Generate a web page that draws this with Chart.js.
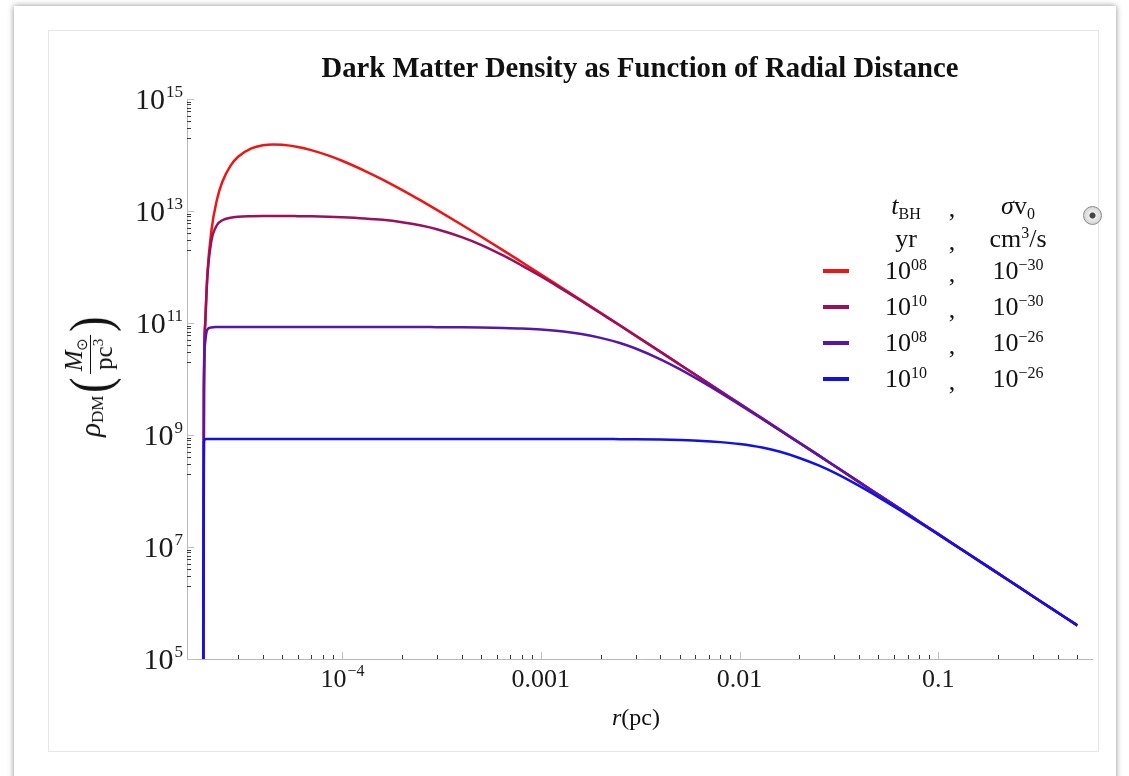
<!DOCTYPE html>
<html>
<head>
<meta charset="utf-8">
<title>Dark Matter Density</title>
<script src="https://cdn.jsdelivr.net/npm/chart.js@4.4.1/dist/chart.umd.min.js"></script>
<style>
body { margin: 0; background: #fff; width: 1129px; height: 776px; overflow: hidden;
       font-family: "Liberation Serif", "Times New Roman", serif; color: #111; }
#panel { position: absolute; left: 14px; top: 6px; width: 1102px; height: 820px; background: #fff;
         box-shadow: 0 0 6px rgba(0,0,0,0.45); }
#frame { position: absolute; left: 48px; top: 30px; width: 1049px; height: 720px; border: 1px solid #e6e6e6; }
#chart { position: absolute; left: 0; top: 0; }
#title { position: absolute; left: 640px; top: 51px; transform: translateX(-50%) scaleX(0.955); white-space: nowrap;
         font-size: 30px; font-weight: bold; line-height: 32px; }
#xtitle { position: absolute; left: 636px; top: 702px; transform: translateX(-50%); font-size: 24px; line-height: 30px; }
#ytitle { position: absolute; left: 90px; top: 375px; transform: translate(-50%, -50%) rotate(-90deg);
          white-space: nowrap; display: flex; align-items: center; font-size: 29px; }
#ytitle .sub { font-size: 17px; position: relative; top: 8px; }
#ytitle .paren { font-size: 58px; font-weight: 300; line-height: 62px; margin: 0 1px; transform: scaleX(0.8); }
#ytitle .frac { display: inline-flex; flex-direction: column; align-items: center; }
#ytitle .num { border-bottom: 1.5px solid #111; padding: 0 3px; font-size: 25px; line-height: 26px; }
#ytitle .den { font-size: 25px; line-height: 26px; }
#ytitle .sm { font-size: 15px; position: relative; top: 5px; }
#ytitle .sp { font-size: 15px; position: relative; top: -9px; }
.lg { position: absolute; font-size: 26px; line-height: 30px; height: 30px; white-space: nowrap; transform: translateX(-50%); }
.lg sup { font-size: 16px; vertical-align: baseline; position: relative; top: -9px; }
.lg sub { font-size: 16px; vertical-align: baseline; position: relative; top: 5px; }
.sw { position: absolute; width: 26px; height: 4px; }
#knob { position: absolute; left: 1083px; top: 206px; width: 17px; height: 17px; border-radius: 50%;
        border: 1px solid #8a8a8a; background: radial-gradient(circle, #444 0 2.5px, #eee 3.5px, #c4c4c4 100%); }
</style>
</head>
<body>
<div id="panel"></div>
<div id="frame"></div>
<canvas id="chart" width="1129" height="776"></canvas>
<div id="title">Dark Matter Density as Function of Radial Distance</div>
<div id="xtitle"><i>r</i>(pc)</div>
<div id="ytitle"><i>ρ</i><span class="sub">DM</span><span class="paren">(</span><span class="frac"><span class="num"><i>M</i><span class="sm">⊙</span></span><span class="den">pc<span class="sp">3</span></span></span><span class="paren">)</span></div>
<div id="legend"></div>
<div id="knob"></div>
<script>
// radial distance r (pc)
const radius = [2.0e-5, 2.02e-5, 2.05e-5, 2.1e-5, 2.2e-5, 2.35e-5, 2.5e-5, 2.75e-5, 3e-5, 3.5e-5,
    4e-5, 4.5e-5, 5e-5, 6e-5, 7e-5, 8.5e-5, 1e-4, 1.3e-4, 1.6e-4, 2e-4,
    2.5e-4, 3e-4, 4e-4, 5e-4, 6.5e-4, 8e-4, 1e-3, 1.3e-3, 1.6e-3, 2e-3,
    2.5e-3, 3e-3, 4e-3, 5e-3, 6.5e-3, 8e-3, 1e-2, 1.3e-2, 1.6e-2, 2e-2,
    2.5e-2, 3e-2, 4e-2, 5e-2, 6.5e-2, 8e-2, 0.1, 0.13, 0.16, 0.2,
    0.25, 0.3, 0.4, 0.5];

// density (Msun / pc^3), t_BH = 1e8 yr, sigma v = 1e-30 cm^3/s
const rho_8_30 = [1e3, 6.89e9, 9.95e10, 6.98e11, 4.35e12, 1.61e13, 3.32e13, 6.47e13, 9.31e13, 1.31e14,
    1.49e14, 1.54e14, 1.52e14, 1.39e14, 1.22e14, 9.82e13, 7.89e13, 5.22e13, 3.64e13, 2.39e13,
    1.53e13, 1.05e13, 5.69e12, 3.50e12, 1.96e12, 1.23e12, 7.43e11, 4.08e11, 2.54e11, 1.52e11,
    9.10e10, 5.96e10, 3.06e10, 1.82e10, 9.91e9, 6.12e9, 3.64e9, 1.98e9, 1.22e9, 7.26e8,
    4.33e8, 2.82e8, 1.44e8, 8.57e7, 4.65e7, 2.86e7, 1.70e7, 9.23e6, 5.69e6, 3.38e6,
    2.01e6, 1.31e6, 6.70e5, 3.98e5];

// t_BH = 1e10 yr, sigma v = 1e-30
const rho_10_30 = [1e3, 6.89e9, 9.84e10, 6.46e11, 2.88e12, 5.62e12, 6.84e12, 7.60e12, 7.89e12, 8.05e12,
    8.11e12, 8.13e12, 8.13e12, 8.09e12, 8.04e12, 7.93e12, 7.76e12, 7.38e12, 6.97e12, 6.32e12,
    5.50e12, 4.73e12, 3.42e12, 2.49e12, 1.59e12, 1.07e12, 6.84e11, 3.89e11, 2.47e11, 1.49e11,
    9.00e10, 5.92e10, 3.05e10, 1.82e10, 9.91e9, 6.12e9, 3.64e9, 1.98e9, 1.22e9, 7.26e8,
    4.33e8, 2.82e8, 1.44e8, 8.57e7, 4.65e7, 2.86e7, 1.70e7, 9.23e6, 5.69e6, 3.38e6,
    2.01e6, 1.31e6, 6.70e5, 3.98e5];

// t_BH = 1e8 yr, sigma v = 1e-26
const rho_8_26 = [1e3, 6.38e9, 4.57e10, 7.60e10, 8.34e10, 8.47e10, 8.51e10, 8.51e10, 8.51e10, 8.51e10,
    8.51e10, 8.51e10, 8.51e10, 8.51e10, 8.51e10, 8.51e10, 8.51e10, 8.51e10, 8.51e10, 8.51e10,
    8.51e10, 8.43e10, 8.39e10, 8.32e10, 8.15e10, 7.96e10, 7.64e10, 7.05e10, 6.37e10, 5.43e10,
    4.40e10, 3.51e10, 2.25e10, 1.50e10, 8.87e9, 5.71e9, 3.48e9, 1.93e9, 1.20e9, 7.19e8,
    4.33e8, 2.82e8, 1.44e8, 8.57e7, 4.65e7, 2.86e7, 1.70e7, 9.23e6, 5.69e6, 3.38e6,
    2.01e6, 1.31e6, 6.70e5, 3.98e5];

// t_BH = 1e10 yr, sigma v = 1e-26
const rho_10_26 = [1e3, 7.59e8, 8.43e8, 8.51e8, 8.51e8, 8.51e8, 8.51e8, 8.51e8, 8.51e8, 8.51e8,
    8.51e8, 8.51e8, 8.51e8, 8.51e8, 8.51e8, 8.51e8, 8.51e8, 8.51e8, 8.51e8, 8.51e8,
    8.51e8, 8.51e8, 8.51e8, 8.51e8, 8.51e8, 8.51e8, 8.49e8, 8.49e8, 8.49e8, 8.49e8,
    8.43e8, 8.39e8, 8.28e8, 8.13e8, 7.85e8, 7.46e8, 6.89e8, 5.96e8, 5.01e8, 3.89e8,
    2.86e8, 2.12e8, 1.23e8, 7.78e7, 4.41e7, 2.77e7, 1.67e7, 9.12e6, 5.65e6, 3.37e6,
    2.00e6, 1.31e6, 6.70e5, 3.98e5];

const seriesData = [rho_8_30, rho_10_30, rho_8_26, rho_10_26];
const seriesColors = ['#f01414', '#9b0f5c', '#5616ac', '#1010ee'];
const legendTime = ['10^08', '10^10', '10^08', '10^10'];
const legendCross = ['10^−30', '10^−30', '10^−26', '10^−26'];

const xTickValues = [1e-4, 1e-3, 1e-2, 0.1];
const xTickLabels = ['10^−4', '0.001', '0.01', '0.1'];
const yTickValues = [1e5, 1e7, 1e9, 1e11, 1e13, 1e15];
const yTickLabels = ['10^5', '10^7', '10^9', '10^11', '10^13', '10^15'];

const FONT = '"Liberation Serif", "Times New Roman", serif';

function supHtml(s) {
    var p = s.split('^');
    return p[0] + (p[1] ? '<sup>' + p[1] + '</sup>' : '');
}

// legend (html so super/subscripts stay real text)
(function buildLegend() {
    var box = document.getElementById('legend');
    var html = '';
    var col1 = 906, colComma = 952, col2 = 1018;
    html += '<div class="lg" style="left:' + col1 + 'px;top:191px"><i>t</i><sub>BH</sub></div>';
    html += '<div class="lg" style="left:' + colComma + 'px;top:194px">,</div>';
    html += '<div class="lg" style="left:' + col2 + 'px;top:191px"><i>σ</i>v<sub>0</sub></div>';
    html += '<div class="lg" style="left:' + col1 + 'px;top:224px">yr</div>';
    html += '<div class="lg" style="left:' + colComma + 'px;top:227px">,</div>';
    html += '<div class="lg" style="left:' + col2 + 'px;top:224px">cm<sup>3</sup>/s</div>';
    for (var i = 0; i < legendTime.length; i++) {
        var cy = 271 + i * 36;
        html += '<div class="sw" style="left:823px;top:' + (cy - 2) + 'px;background:' + seriesColors[i] + '"></div>';
        html += '<div class="lg" style="left:' + col1 + 'px;top:' + (cy - 15) + 'px">' + supHtml(legendTime[i]) + '</div>';
        html += '<div class="lg" style="left:' + colComma + 'px;top:' + (cy - 12) + 'px">,</div>';
        html += '<div class="lg" style="left:' + col2 + 'px;top:' + (cy - 15) + 'px">' + supHtml(legendCross[i]) + '</div>';
    }
    box.innerHTML = html;
})();

function drawPower(ctx, text, x, y, align, size, supSize, raise) {
    var p = text.split('^');
    ctx.font = size + 'px ' + FONT;
    var wb = ctx.measureText(p[0]).width;
    var ws = 0;
    if (p[1]) {
        ctx.font = supSize + 'px ' + FONT;
        ws = ctx.measureText(p[1]).width;
    }
    var x0 = align === 'right' ? x - wb - ws : x - (wb + ws) / 2;
    ctx.textAlign = 'left';
    ctx.textBaseline = 'alphabetic';
    ctx.font = size + 'px ' + FONT;
    ctx.fillText(p[0], x0, y);
    if (p[1]) {
        ctx.font = supSize + 'px ' + FONT;
        ctx.fillText(p[1], x0 + wb + 1, y - raise);
    }
}

const axisPlugin = {
    id: 'axisPlugin',
    beforeDatasetsDraw(chart) {
        var ctx = chart.ctx, area = chart.chartArea;
        var xs = chart.scales.x, ys = chart.scales.y;
        ctx.save();
        ctx.lineWidth = 1;
        ctx.strokeStyle = '#b8b8b8';
        ctx.beginPath();
        ctx.moveTo(area.left + 0.5, area.top);
        ctx.lineTo(area.left + 0.5, area.bottom + 0.5);
        ctx.lineTo(area.right, area.bottom + 0.5);
        ctx.stroke();
        // inward tick marks
        xs.ticks.forEach(function (t) {
            var px = Math.round(xs.getPixelForValue(t.value)) + 0.5;
            ctx.strokeStyle = t.major ? '#c0c0c0' : '#3a3a3a';
            ctx.beginPath();
            ctx.moveTo(px, area.bottom);
            ctx.lineTo(px, area.bottom - (t.major ? 7 : 4));
            ctx.stroke();
        });
        ys.ticks.forEach(function (t) {
            var py = Math.round(ys.getPixelForValue(t.value)) + 0.5;
            ctx.strokeStyle = t.major ? '#c0c0c0' : '#3a3a3a';
            ctx.beginPath();
            ctx.moveTo(area.left, py);
            ctx.lineTo(area.left + (t.major ? 7 : 4), py);
            ctx.stroke();
        });
        ctx.restore();
    },
    afterDraw(chart) {
        var ctx = chart.ctx, area = chart.chartArea;
        var xs = chart.scales.x, ys = chart.scales.y;
        ctx.save();
        ctx.fillStyle = '#1a1a1a';
        xTickValues.forEach(function (v, i) {
            drawPower(ctx, xTickLabels[i], xs.getPixelForValue(v), area.bottom + 28, 'center', 26, 16, 11);
        });
        yTickValues.forEach(function (v, i) {
            drawPower(ctx, yTickLabels[i], area.left - 5, ys.getPixelForValue(v) + 10, 'right', 30, 17, 12);
        });
        ctx.restore();
    }
};

function logTicks(values, lo, hi, minorDecades) {
    var out = [];
    values.forEach(function (v) { out.push({ value: v, major: true }); });
    minorDecades.forEach(function (d) {
        for (var m = 2; m <= 9; m++) {
            var v = m * d;
            if (v >= lo && v <= hi) out.push({ value: v, major: false });
        }
    });
    return out.sort(function (a, b) { return a.value - b.value; });
}

const X_MIN = 1.66e-5, X_MAX = 0.6, Y_MIN = 1e5, Y_MAX = 1e15;

var ctx = document.getElementById('chart');
var myChart = new Chart(ctx, {
    type: 'line',
    data: {
        datasets: seriesData.map(function (vals, i) {
            return {
                label: legendTime[i] + ', ' + legendCross[i],
                data: radius.map(function (r, j) { return { x: r, y: vals[j] }; }),
                borderColor: seriesColors[i],
                borderWidth: 2.5,
                pointRadius: 0,
                cubicInterpolationMode: 'monotone',
                fill: false,
                order: 4 - i
            };
        })
    },
    plugins: [axisPlugin],
    options: {
        responsive: false,
        animation: false,
        layout: { padding: { left: 0, top: 99, right: 36, bottom: 0 } },
        plugins: {
            legend: { display: false },
            tooltip: { enabled: false },
            title: { display: false }
        },
        scales: {
            x: {
                type: 'logarithmic',
                min: X_MIN,
                max: X_MAX,
                ticks: { display: false },
                grid: { display: false },
                border: { display: false },
                afterBuildTicks: function (scale) {
                    scale.ticks = logTicks(xTickValues, X_MIN, X_MAX, [1e-5, 1e-4, 1e-3, 1e-2, 0.1]);
                },
                afterFit: function (scale) { scale.height = 117; }
            },
            y: {
                type: 'logarithmic',
                min: Y_MIN,
                max: Y_MAX,
                ticks: { display: false },
                grid: { display: false },
                border: { display: false },
                afterBuildTicks: function (scale) {
                    scale.ticks = logTicks(yTickValues, Y_MIN, Y_MAX, [1e6, 1e8, 1e10, 1e12, 1e14]);
                },
                afterFit: function (scale) { scale.width = 187; }
            }
        }
    }
});
</script>
</body>
</html>
